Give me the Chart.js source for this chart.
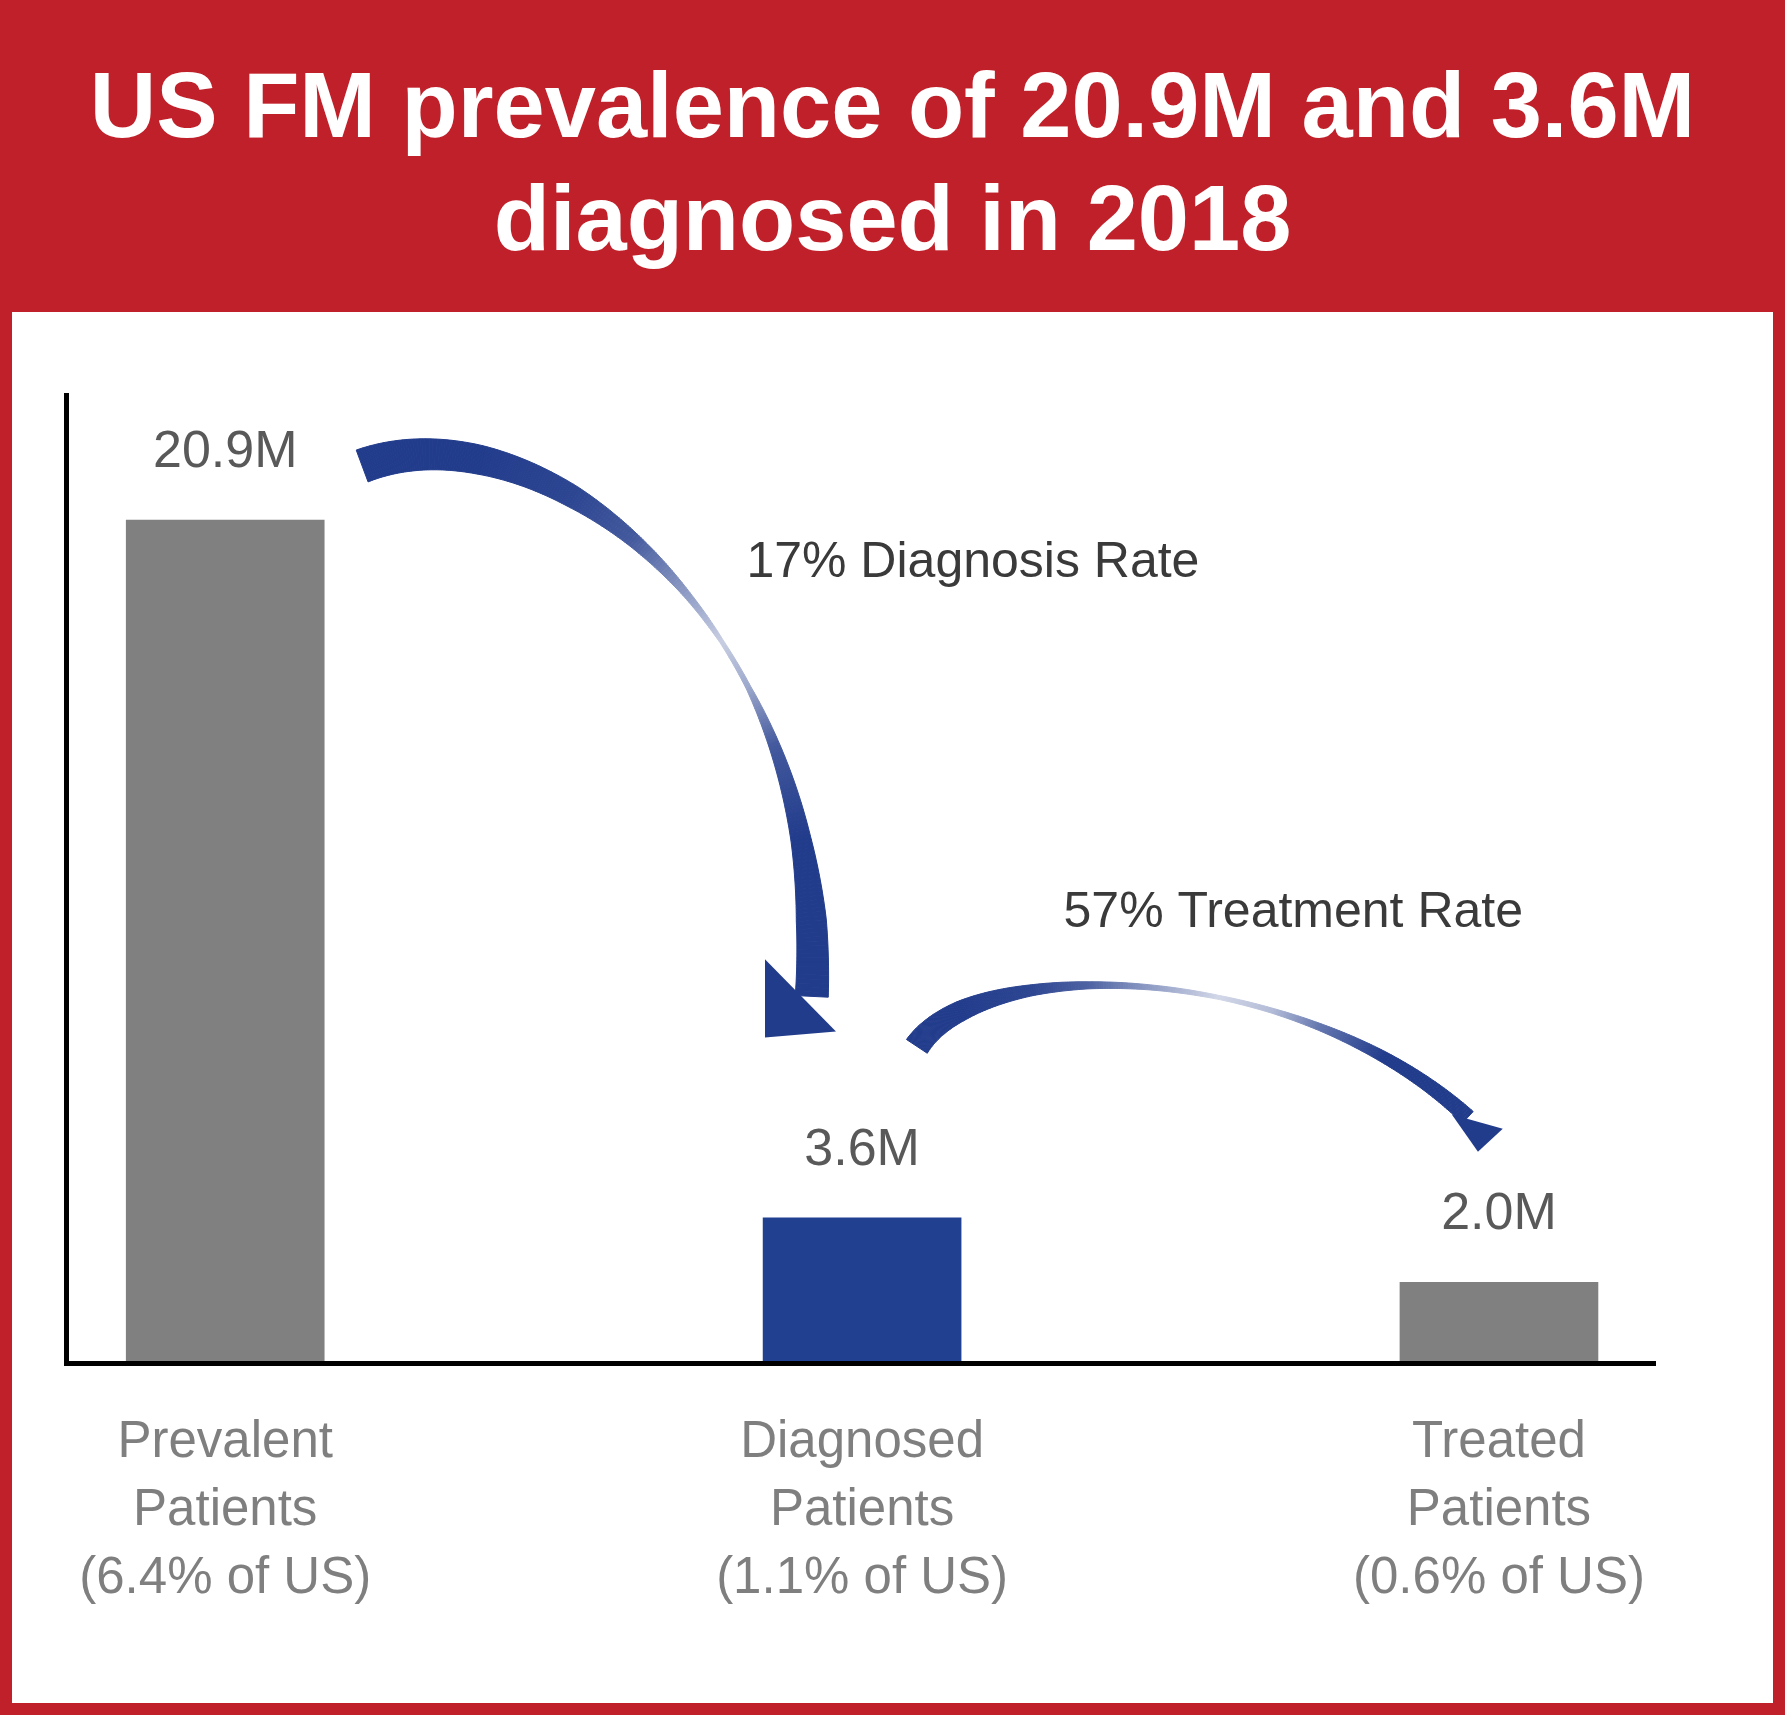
<!DOCTYPE html>
<html><head><meta charset="utf-8">
<script src="https://cdn.jsdelivr.net/npm/chart.js@4.4.1/dist/chart.umd.min.js"></script>
<style>
html,body{margin:0;padding:0;background:#fff;width:1790px;height:1722px;overflow:hidden;}
#frame{position:absolute;left:0;top:0;width:1761px;height:1703px;border-left:12px solid #C0202A;border-right:12px solid #C0202A;border-bottom:12px solid #C0202A;}
#title{position:absolute;left:0;top:0;width:1785px;height:312px;background:#C0202A;color:#fff;font:bold 92px "Liberation Sans",Arial,sans-serif;line-height:113px;text-align:center;padding-top:49px;box-sizing:border-box;margin:0;}
#wrap{position:absolute;left:0;top:0;width:1790px;height:1722px;}
</style></head>
<body>
<div id="frame"></div>
<h1 id="title">US FM prevalence of 20.9M and 3.6M<br>diagnosed in 2018</h1>
<div id="wrap"><canvas id="c" width="1790" height="1722"></canvas></div>
<script>
// ---- data ----
const categoryNames = ['Prevalent', 'Diagnosed', 'Treated'];
const categorySuffix = 'Patients';
const populationShares = ['6.4%', '1.1%', '0.6%'];
const patientsMillions = [20.9, 3.6, 2.0];
const valueLabels = ['20.9M', '3.6M', '2.0M'];
const rateLabels = ['17% Diagnosis Rate', '57% Treatment Rate'];
const yAxisMax = 24;

const tickLines = categoryNames.map((n, i) => [n, categorySuffix, '(' + populationShares[i] + ' of US)']);
const FONT = '"Liberation Sans", Arial, sans-serif';

// annotation geometry (in data units: x = category index, y = millions)
const arrowDefs = [
  { curve: [[0.215, 22.24], [0.494, 23.88], [0.950, 18.41], [0.921, 9.09]],
    head: [[0.8475, 10.01], [0.959, 8.22], [0.8475, 8.07]],
    profile: [[0,34,1],[0.2,29,1],[0.35,22,0.95],[0.45,14,0.85],[0.55,7,0.5],[0.62,4,0.25],[0.68,5,0.45],[0.75,11,0.85],[0.85,20,1],[0.93,30,1],[1,33,1]] },
  { curve: [[1.086, 7.85], [1.185, 10.21], [1.6875, 9.96], [1.951, 6.09]],
    head: [[1.926, 6.16], [2.006, 5.81], [1.967, 5.24]],
    profile: [[0,25,1],[0.15,20,1],[0.3,11,0.95],[0.4,7,0.8],[0.5,5,0.5],[0.6,4,0.2],[0.68,5,0.35],[0.75,7,0.7],[0.85,11,1],[1,16,1]] }
];
const rateLabelPos = [[1.174, 19.48], [1.677, 10.81]];
const ARROW_RGB = [34, 60, 140];

function interp(profile, t) {
  for (let i = 0; i < profile.length - 1; i++) {
    const a = profile[i], b = profile[i + 1];
    if (t >= a[0] && t <= b[0]) {
      const f = (t - a[0]) / (b[0] - a[0]);
      return [a[1] + (b[1] - a[1]) * f, a[2] + (b[2] - a[2]) * f];
    }
  }
  const l = profile[profile.length - 1];
  return [l[1], l[2]];
}
function mixCol(a) {
  const c = ARROW_RGB.map(v => Math.round(255 + (v - 255) * a));
  return 'rgb(' + c.join(',') + ')';
}

const annotationPlugin = {
  id: 'annotations',
  afterDraw(chart) {
    const ctx = chart.ctx;
    const xs = chart.scales.x, ys = chart.scales.y;
    const px = p => [xs.getPixelForValue(p[0]), ys.getPixelForValue(p[1])];
    ctx.save();
    const meta = chart.getDatasetMeta(0);
    ctx.font = '52px ' + FONT;
    ctx.fillStyle = '#595959';
    ctx.textAlign = 'center';
    ctx.textBaseline = 'alphabetic';
    meta.data.forEach((bar, i) => {
      ctx.fillText(valueLabels[i], bar.x, bar.y - 53);
    });
    ctx.font = '50px ' + FONT;
    ctx.fillStyle = '#3a3a3a';
    rateLabels.forEach((t, i) => {
      const p = px(rateLabelPos[i]);
      ctx.fillText(t, p[0], p[1]);
    });
    arrowDefs.forEach(def => {
      const P = def.curve.map(px);
      const N = 260;
      const pts = [];
      for (let i = 0; i <= N; i++) {
        const t = i / N, u = 1 - t;
        const x = u*u*u*P[0][0] + 3*u*u*t*P[1][0] + 3*u*t*t*P[2][0] + t*t*t*P[3][0];
        const y = u*u*u*P[0][1] + 3*u*u*t*P[1][1] + 3*u*t*t*P[2][1] + t*t*t*P[3][1];
        const dx = 3*u*u*(P[1][0]-P[0][0]) + 6*u*t*(P[2][0]-P[1][0]) + 3*t*t*(P[3][0]-P[2][0]);
        const dy = 3*u*u*(P[1][1]-P[0][1]) + 6*u*t*(P[2][1]-P[1][1]) + 3*t*t*(P[3][1]-P[2][1]);
        const len = Math.hypot(dx, dy) || 1;
        const wa = interp(def.profile, t);
        pts.push({x, y, nx: -dy/len, ny: dx/len, w: wa[0], a: wa[1]});
      }
      for (let i = 0; i < N; i++) {
        const p = pts[i], q = pts[i + 1];
        const col = mixCol((p.a + q.a) / 2);
        ctx.beginPath();
        ctx.moveTo(p.x + p.nx*p.w/2, p.y + p.ny*p.w/2);
        ctx.lineTo(q.x + q.nx*q.w/2, q.y + q.ny*q.w/2);
        ctx.lineTo(q.x - q.nx*q.w/2, q.y - q.ny*q.w/2);
        ctx.lineTo(p.x - p.nx*p.w/2, p.y - p.ny*p.w/2);
        ctx.closePath();
        ctx.fillStyle = col; ctx.strokeStyle = col; ctx.lineWidth = 1;
        ctx.fill(); ctx.stroke();
      }
      const H = def.head.map(px);
      ctx.beginPath();
      ctx.moveTo(H[0][0], H[0][1]);
      ctx.lineTo(H[1][0], H[1][1]);
      ctx.lineTo(H[2][0], H[2][1]);
      ctx.closePath();
      ctx.fillStyle = mixCol(1);
      ctx.fill();
    });
    ctx.restore();
  }
};

new Chart(document.getElementById('c'), {
  type: 'bar',
  data: {
    datasets: [{
      data: patientsMillions.map((v, i) => ({ x: i, y: v })),
      backgroundColor: ['#808080', '#214090', '#808080'],
      borderWidth: 0,
      barThickness: 198
    }]
  },
  options: {
    responsive: false,
    animation: false,
    devicePixelRatio: 1,
    layout: { padding: { left: 66, top: 395, right: 135, bottom: 63 } },
    plugins: { legend: { display: false }, tooltip: { enabled: false }, title: { display: false } },
    scales: {
      x: {
        type: 'linear', min: -0.25, max: 2.245, offset: false, grace: 0,
        afterBuildTicks: s => { s.ticks = categoryNames.map((_, i) => ({ value: i })); },
        ticks: {
          autoSkip: false, maxRotation: 0, minRotation: 0, padding: 46,
          color: '#7f7f7f',
          font: { family: FONT, size: 51, lineHeight: 1.3333 },
          callback: v => tickLines[v]
        },
        grid: { display: false, drawTicks: false, offset: false },
        border: { display: true, color: '#000', width: 5, z: 1 }
      },
      y: {
        min: 0, max: yAxisMax,
        ticks: { display: false },
        grid: { display: false, drawTicks: false },
        border: { display: true, color: '#000', width: 5, z: 1 }
      }
    }
  },
  plugins: [annotationPlugin]
});
</script>
</body></html>
